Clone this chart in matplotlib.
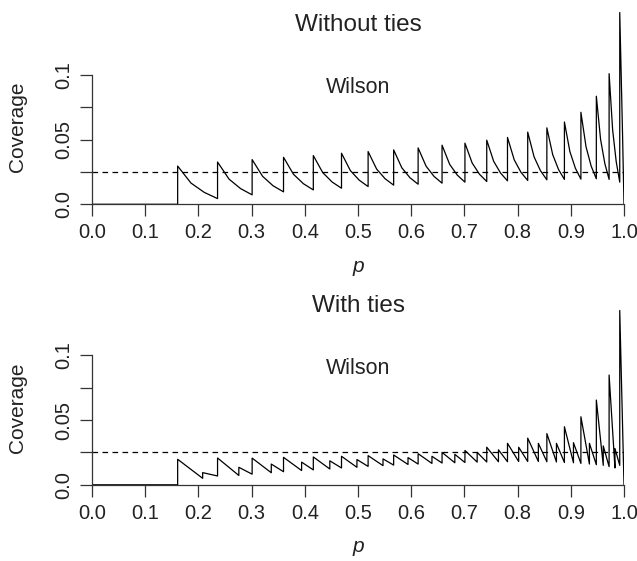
import matplotlib
matplotlib.use("Agg")
import matplotlib.pyplot as plt

plt.rcParams['font.family'] = ['Liberation Sans', 'DejaVu Sans']

# top panel: one tooth per Wilson upper limit (n = 20)
top_jump_p = [0.161, 0.236, 0.301, 0.360, 0.416, 0.469, 0.519, 0.567, 0.613, 0.658,
              0.701, 0.742, 0.781, 0.819, 0.855, 0.888, 0.919, 0.948, 0.972, 0.992]
top_peak = [0.0295, 0.0326, 0.0345, 0.0363, 0.0376, 0.0394, 0.0407, 0.0420, 0.0435, 0.0456,
            0.0472, 0.0495, 0.0516, 0.0557, 0.0590, 0.0635, 0.0710, 0.0834, 0.1008, 0.1480]
# values one third and two thirds of the way along each tooth
top_mid1 = [0.0164, 0.0194, 0.0216, 0.0232, 0.0245, 0.0260, 0.0272, 0.0282, 0.0294, 0.0308,
            0.0318, 0.0332, 0.0343, 0.0366, 0.0383, 0.0406, 0.0443, 0.0500, 0.0573, 0.1008]
top_mid2 = [0.0092, 0.0121, 0.0143, 0.0159, 0.0172, 0.0186, 0.0197, 0.0205, 0.0215, 0.0225,
            0.0232, 0.0241, 0.0247, 0.0259, 0.0268, 0.0278, 0.0294, 0.0314, 0.0330, 0.0527]
top_trough = [0.0044, 0.0073, 0.0096, 0.0111, 0.0124, 0.0137, 0.0148, 0.0155, 0.0163, 0.0171,
              0.0176, 0.0181, 0.0184, 0.0189, 0.0192, 0.0194, 0.0197, 0.0192, 0.0171, 0.0]

# bottom panel: main and half steps alternate
bot_jump_p = [0.161, 0.208, 0.236, 0.276, 0.301, 0.337, 0.360, 0.394, 0.416, 0.447,
              0.469, 0.498, 0.519, 0.547, 0.567, 0.594, 0.613, 0.639, 0.658, 0.682,
              0.701, 0.724, 0.742, 0.764, 0.781, 0.802, 0.819, 0.839, 0.855, 0.873,
              0.888, 0.905, 0.919, 0.935, 0.948, 0.961, 0.972, 0.983, 0.992]
bot_peak = [0.0197, 0.0094, 0.0207, 0.0135, 0.0206, 0.0160, 0.0212, 0.0175, 0.0215, 0.0185,
            0.0220, 0.0195, 0.0225, 0.0200, 0.0230, 0.0210, 0.0240, 0.0220, 0.0250, 0.0235,
            0.0265, 0.0250, 0.0290, 0.0270, 0.0320, 0.0290, 0.0360, 0.0320, 0.0395, 0.0320,
            0.0448, 0.0325, 0.0525, 0.0320, 0.0654, 0.0300, 0.0847, 0.0280, 0.1345]
bot_trough = [0.0050, 0.0068, 0.0072, 0.0082, 0.0093, 0.0101, 0.0110, 0.0115, 0.0122, 0.0130,
              0.0135, 0.0142, 0.0148, 0.0152, 0.0157, 0.0160, 0.0165, 0.0168, 0.0170, 0.0172,
              0.0175, 0.0176, 0.0178, 0.0178, 0.0180, 0.0180, 0.0180, 0.0178, 0.0176, 0.0172,
              0.0170, 0.0165, 0.0160, 0.0155, 0.0150, 0.0140, 0.0130, 0.0150, 0.0]

nominal = 0.025
titles = ["Without ties", "With ties"]
x_ticks = [0.0, 0.1, 0.2, 0.3, 0.4, 0.5, 0.6, 0.7, 0.8, 0.9, 1.0]
y_ticks = [0.0, 0.025, 0.05, 0.075, 0.1]
y_labels = ["0.0", "", "0.05", "", "0.1"]


def sawtooth(jumps, peaks, troughs, mids=()):
    xs, ys = [0.0, jumps[0]], [0.0, 0.0]
    for i in range(len(jumps)):
        end = jumps[i + 1] if i + 1 < len(jumps) else 1.0
        xs.append(jumps[i]); ys.append(peaks[i])
        for j, m in enumerate(mids):
            xs.append(jumps[i] + (end - jumps[i]) * (j + 1) / (len(mids) + 1))
            ys.append(m[i])
        xs.append(end); ys.append(troughs[i])
    return xs, ys


W, H = 637, 561
fig = plt.figure(figsize=(W / 100, H / 100), dpi=100)
txt = '#222222'


def fx(px):
    return px / W


def fy(py):
    return 1 - py / H


panels = [sawtooth(top_jump_p, top_peak, top_trough, (top_mid1, top_mid2)),
          sawtooth(bot_jump_p, bot_peak, bot_trough)]

for k, (xs, ys) in enumerate(panels):
    off = k * 280.5
    zero_px = 204.3 + off
    ymax = 0.149
    ax = fig.add_axes([fx(92), fy(zero_px), fx(532), ymax * 1296 / H])
    ax.plot(xs, ys, color='black', lw=0.9)
    ax.plot([0, 1], [nominal, nominal], color='black', lw=0.9, dashes=(4.5, 3.5))
    ax.set_xlim(0, 1)
    ax.set_ylim(0, ymax)
    for s in ['top', 'right']:
        ax.spines[s].set_visible(False)
    ax.spines['left'].set_bounds(0, 0.1)
    ax.spines['bottom'].set_bounds(0, 1)
    for s in ['left', 'bottom']:
        ax.spines[s].set_linewidth(0.9)
        ax.spines[s].set_color('#333333')
    ax.set_xticks(x_ticks)
    ax.set_xticklabels([f"{v:.1f}" for v in x_ticks])
    ax.set_yticks(y_ticks)
    ax.set_yticklabels(y_labels, rotation=90, va='center')
    ax.tick_params(length=8.5, width=0.9, color='#333333', labelsize=14.5,
                   labelcolor=txt, pad=5)
    ax.patch.set_visible(False)
    ax.text(0.5, 0.09, "Wilson", ha='center', va='center', fontsize=15.5, color=txt)

    fig.text(fx(358), fy(25 + off), titles[k], ha='center', va='center',
             fontsize=17.5, color=txt)
    fig.text(fx(18), fy(127 + off), "Coverage", rotation=90, ha='center',
             va='center', fontsize=15, color=txt)
    fig.text(fx(358), fy(266 + off), "p", style='italic', ha='center',
             va='center', fontsize=15, color=txt)

fig.savefig("out.png", dpi=100)
